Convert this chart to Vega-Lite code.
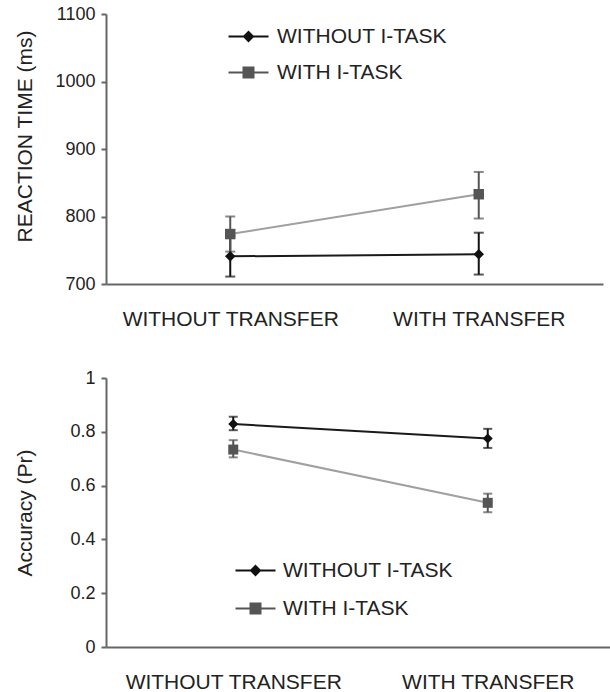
{
  "$schema": "https://vega.github.io/schema/vega-lite/v6.json",
  "background": "white",
  "padding": {"left": 13, "top": 5, "right": 0, "bottom": 0},
  "autosize": {"type": "pad"},
  "config": {
    "font": "Liberation Sans",
    "view": {"stroke": null},
    "axis": {
      "domainColor": "#666666",
      "domainWidth": 2,
      "tickColor": "#666666",
      "tickWidth": 2,
      "labelColor": "#222222",
      "titleColor": "#222222",
      "grid": false,
      "titleFontWeight": "normal",
      "labelLimit": 0
    }
  },
  "spacing": 40,
  "datasets": {
    "rt": [
      {"condition": "WITHOUT TRANSFER", "series": "WITHOUT I-TASK", "value": 741, "lower": 711, "upper": 771},
      {"condition": "WITH TRANSFER", "series": "WITHOUT I-TASK", "value": 744, "lower": 714, "upper": 776},
      {"condition": "WITHOUT TRANSFER", "series": "WITH I-TASK", "value": 774, "lower": 748, "upper": 800},
      {"condition": "WITH TRANSFER", "series": "WITH I-TASK", "value": 833, "lower": 797, "upper": 866}
    ],
    "acc": [
      {"condition": "WITHOUT TRANSFER", "series": "WITHOUT I-TASK", "value": 0.829, "lower": 0.806, "upper": 0.856},
      {"condition": "WITH TRANSFER", "series": "WITHOUT I-TASK", "value": 0.775, "lower": 0.740, "upper": 0.811},
      {"condition": "WITHOUT TRANSFER", "series": "WITH I-TASK", "value": 0.734, "lower": 0.705, "upper": 0.769},
      {"condition": "WITH TRANSFER", "series": "WITH I-TASK", "value": 0.536, "lower": 0.501, "upper": 0.570}
    ]
  },
  "resolve": {"scale": {"color": "independent", "shape": "independent", "stroke": "independent"}},
  "vconcat": [
    {
      "width": 497,
      "height": 270,
      "data": {"name": "rt"},
      "encoding": {
        "x": {
          "field": "condition", "type": "nominal",
          "sort": ["WITHOUT TRANSFER", "WITH TRANSFER"],
          "scale": {"type": "point", "padding": 0.5},
          "axis": {"title": null, "ticks": false, "labelAngle": 0, "labelFontSize": 21, "labelPadding": 24}
        }
      },
      "layer": [
        {
          "mark": {"type": "line", "strokeWidth": 2},
          "encoding": {
            "y": {"field": "value", "type": "quantitative", "scale": {"domain": [700, 1100], "nice": false, "zero": false},
              "axis": {"values": [700, 800, 900, 1000, 1100], "format": "d", "tickSize": 5, "labelFontSize": 18, "labelPadding": 6,
                "title": "REACTION TIME (ms)", "titleFontSize": 21, "titleX": -71, "titleY": 122}},
            "stroke": {"field": "series", "type": "nominal", "scale": {"domain": ["WITH I-TASK", "WITHOUT I-TASK"], "range": ["#a0a0a0", "#1a1a1a"]}, "legend": null}
          }
        },
        {
          "mark": {"type": "rule", "strokeWidth": 2},
          "encoding": {
            "y": {"field": "lower", "type": "quantitative"},
            "y2": {"field": "upper"},
            "color": {"field": "series", "type": "nominal"}
          }
        },
        {
          "mark": {"type": "tick", "size": 10, "thickness": 2},
          "encoding": {
            "y": {"field": "lower", "type": "quantitative"},
            "color": {"field": "series", "type": "nominal"}
          }
        },
        {
          "mark": {"type": "tick", "size": 10, "thickness": 2},
          "encoding": {
            "y": {"field": "upper", "type": "quantitative"},
            "color": {"field": "series", "type": "nominal"}
          }
        },
        {
          "mark": {"type": "point", "filled": true, "opacity": 1, "size": 110},
          "encoding": {
            "y": {"field": "value", "type": "quantitative"},
            "shape": {"field": "series", "type": "nominal", "scale": {"domain": ["WITH I-TASK", "WITHOUT I-TASK"], "range": ["square", "diamond"]}, "legend": null},
            "color": {
              "field": "series", "type": "nominal",
              "scale": {"domain": ["WITHOUT I-TASK", "WITH I-TASK"], "range": ["#111111", "#555555"]},
              "legend": {
                "title": null, "orient": "none", "legendX": 128, "legendY": 12,
                "labelFontSize": 21, "labelColor": "#222222", "labelLimit": 0, "symbolSize": 100,
                "symbolOffset": 4, "labelOffset": 18, "rowPadding": 14, "padding": 0, "symbolOpacity": 1,
                "encode": {"symbols": {"update": {
                  "shape": {"signal": "datum.value === 'WITH I-TASK' ? 'M-4,0H4M-1,-1H1V1H-1Z' : 'M-4,0H4M-0.9,0L0,-0.9L0.9,0L0,0.9Z'"},
                  "stroke": {"signal": "datum.value === 'WITH I-TASK' ? '#a0a0a0' : '#1a1a1a'"},
                  "strokeWidth": {"value": 2}
                }}}
              }
            }
          }
        }
      ]
    },
    {
      "width": 509,
      "height": 269,
      "data": {"name": "acc"},
      "encoding": {
        "x": {
          "field": "condition", "type": "nominal",
          "sort": ["WITHOUT TRANSFER", "WITH TRANSFER"],
          "scale": {"type": "point", "padding": 0.5},
          "axis": {"title": null, "ticks": false, "labelAngle": 0, "labelFontSize": 21, "labelPadding": 24}
        }
      },
      "layer": [
        {
          "mark": {"type": "line", "strokeWidth": 2},
          "encoding": {
            "y": {"field": "value", "type": "quantitative", "scale": {"domain": [0, 1], "nice": false},
              "axis": {"values": [0, 0.2, 0.4, 0.6, 0.8, 1], "format": "~g", "tickSize": 5, "labelFontSize": 18, "labelPadding": 6,
                "title": "Accuracy (Pr)", "titleFontSize": 21, "titleX": -71}},
            "stroke": {"field": "series", "type": "nominal", "scale": {"domain": ["WITH I-TASK", "WITHOUT I-TASK"], "range": ["#a0a0a0", "#1a1a1a"]}, "legend": null}
          }
        },
        {
          "mark": {"type": "rule", "strokeWidth": 2},
          "encoding": {
            "y": {"field": "lower", "type": "quantitative"},
            "y2": {"field": "upper"},
            "color": {"field": "series", "type": "nominal"}
          }
        },
        {
          "mark": {"type": "tick", "size": 9, "thickness": 2},
          "encoding": {
            "y": {"field": "lower", "type": "quantitative"},
            "color": {"field": "series", "type": "nominal"}
          }
        },
        {
          "mark": {"type": "tick", "size": 9, "thickness": 2},
          "encoding": {
            "y": {"field": "upper", "type": "quantitative"},
            "color": {"field": "series", "type": "nominal"}
          }
        },
        {
          "mark": {"type": "point", "filled": true, "opacity": 1, "size": 100},
          "encoding": {
            "y": {"field": "value", "type": "quantitative"},
            "shape": {"field": "series", "type": "nominal", "scale": {"domain": ["WITH I-TASK", "WITHOUT I-TASK"], "range": ["square", "diamond"]}, "legend": null},
            "color": {
              "field": "series", "type": "nominal",
              "scale": {"domain": ["WITHOUT I-TASK", "WITH I-TASK"], "range": ["#111111", "#555555"]},
              "legend": {
                "title": null, "orient": "none", "legendX": 135, "legendY": 182,
                "labelFontSize": 21, "labelColor": "#222222", "labelLimit": 0, "symbolSize": 100,
                "symbolOffset": 4, "labelOffset": 17, "rowPadding": 16, "padding": 0, "symbolOpacity": 1,
                "encode": {"symbols": {"update": {
                  "shape": {"signal": "datum.value === 'WITH I-TASK' ? 'M-4,0H4M-1,-1H1V1H-1Z' : 'M-4,0H4M-0.9,0L0,-0.9L0.9,0L0,0.9Z'"},
                  "stroke": {"signal": "datum.value === 'WITH I-TASK' ? '#a0a0a0' : '#1a1a1a'"},
                  "strokeWidth": {"value": 2}
                }}}
              }
            }
          }
        }
      ]
    }
  ]
}
